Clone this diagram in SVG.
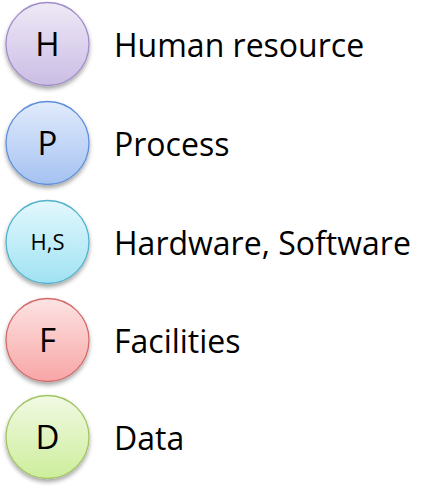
<svg xmlns="http://www.w3.org/2000/svg" width="437" height="489" viewBox="0 0 437 489">
<defs>
<filter id="sh" x="-20%" y="-20%" width="140%" height="150%">
<feDropShadow dx="0" dy="3" stdDeviation="2" flood-color="#000" flood-opacity="0.35"/>
</filter>
<linearGradient id="gH" x1="0" y1="0" x2="0" y2="1"><stop offset="0" stop-color="#eee9f6"/><stop offset="1" stop-color="#cbbde5"/></linearGradient>
<linearGradient id="gP" x1="0" y1="0" x2="0" y2="1"><stop offset="0" stop-color="#e1ebfb"/><stop offset="1" stop-color="#a5c2f2"/></linearGradient>
<linearGradient id="gS" x1="0" y1="0" x2="0" y2="1"><stop offset="0" stop-color="#e3f8fd"/><stop offset="1" stop-color="#a0e2f3"/></linearGradient>
<linearGradient id="gF" x1="0" y1="0" x2="0" y2="1"><stop offset="0" stop-color="#fde3e3"/><stop offset="1" stop-color="#f8a6a6"/></linearGradient>
<linearGradient id="gD" x1="0" y1="0" x2="0" y2="1"><stop offset="0" stop-color="#f1f9e3"/><stop offset="1" stop-color="#cdee9c"/></linearGradient>
</defs>
<style>
circle{filter:url(#sh);stroke-width:1.3}
text{font-family:"Open Sans","Noto Sans",sans-serif;fill:#000}
.l{font-size:32px}
.c{font-size:33px;text-anchor:middle}
.s{font-size:22px;text-anchor:middle}
</style>
<rect width="437" height="489" fill="#fff"/>
<g id="connectors"/>
<g id="node-h">
<circle cx="47.5" cy="44" r="41.5" fill="url(#gH)" stroke="#a08cc8"/>
<text class="c" x="47.5" y="56">H</text>
<text class="l" x="114" y="57">Human resource</text>
</g>
<g id="node-p">
<circle cx="47.5" cy="143" r="41.5" fill="url(#gP)" stroke="#5e8fd8"/>
<text class="c" x="47.5" y="155">P</text>
<text class="l" x="114" y="156">Process</text>
</g>
<g id="node-hs">
<circle cx="47.5" cy="242" r="41.5" fill="url(#gS)" stroke="#52b2cc"/>
<text class="s" x="47.5" y="250">H,S</text>
<text class="l" x="114" y="255">Hardware, Software</text>
</g>
<g id="node-f">
<circle cx="47.5" cy="340" r="41.5" fill="url(#gF)" stroke="#d46a6a"/>
<text class="c" x="47.5" y="352">F</text>
<text class="l" x="114" y="353">Facilities</text>
</g>
<g id="node-d">
<circle cx="47.5" cy="437" r="41.5" fill="url(#gD)" stroke="#a2c464"/>
<text class="c" x="47.5" y="449">D</text>
<text class="l" x="114" y="450">Data</text>
</g>
</svg>
